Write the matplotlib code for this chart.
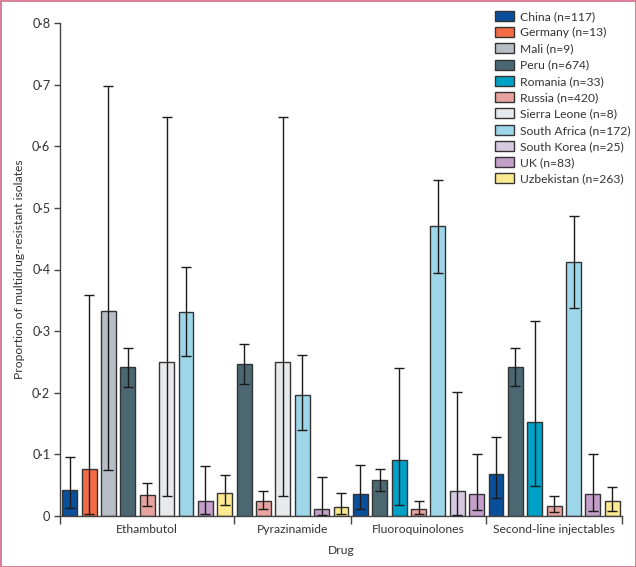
import matplotlib.pyplot as plt
import numpy as np
from matplotlib.patches import Patch
from matplotlib.ticker import FixedLocator, FuncFormatter

plt.rcParams['font.family'] = ['Lato', 'DejaVu Sans']

countries = ['China (n=117)', 'Germany (n=13)', 'Mali (n=9)', 'Peru (n=674)',
             'Romania (n=33)', 'Russia (n=420)', 'Sierra Leone (n=8)',
             'South Africa (n=172)', 'South Korea (n=25)', 'UK (n=83)',
             'Uzbekistan (n=263)']
colors = ['#0a4f9c', '#f36c45', '#b7bec6', '#4b6872', '#00a1c7', '#e8a39e',
          '#e7eaed', '#9dd6e8', '#d8c9e3', '#c49fc9', '#fcea8f']

drugs = ['Ethambutol', 'Pyrazinamide', 'Fluoroquinolones', 'Second-line injectables']

# country index for each bar, per drug
eth_idx = [0, 1, 2, 3, 5, 6, 7, 9, 10]
eth_val = [0.043, 0.076, 0.332, 0.241, 0.034, 0.250, 0.331, 0.025, 0.038]
eth_lo = [0.013, 0.003, 0.075, 0.209, 0.017, 0.032, 0.260, 0.004, 0.018]
eth_hi = [0.096, 0.358, 0.697, 0.273, 0.054, 0.647, 0.404, 0.081, 0.067]

pyr_idx = [3, 5, 6, 7, 9, 10]
pyr_val = [0.246, 0.024, 0.250, 0.197, 0.012, 0.015]
pyr_lo = [0.214, 0.011, 0.032, 0.140, 0.001, 0.004]
pyr_hi = [0.279, 0.041, 0.647, 0.261, 0.063, 0.038]

flq_idx = [0, 3, 4, 5, 7, 8, 9]
flq_val = [0.035, 0.058, 0.091, 0.012, 0.470, 0.040, 0.036]
flq_lo = [0.011, 0.041, 0.018, 0.004, 0.394, 0.002, 0.009]
flq_hi = [0.082, 0.076, 0.240, 0.025, 0.545, 0.201, 0.100]

sli_idx = [0, 3, 4, 5, 7, 9, 10]
sli_val = [0.068, 0.242, 0.152, 0.017, 0.412, 0.036, 0.024]
sli_lo = [0.029, 0.211, 0.049, 0.007, 0.338, 0.008, 0.008]
sli_hi = [0.129, 0.273, 0.317, 0.033, 0.487, 0.100, 0.047]

groups = [(eth_idx, eth_val, eth_lo, eth_hi),
          (pyr_idx, pyr_val, pyr_lo, pyr_hi),
          (flq_idx, flq_val, flq_lo, flq_hi),
          (sli_idx, sli_val, sli_lo, sli_hi)]

fig = plt.figure(figsize=(6.36, 5.67), dpi=100)
fig.patch.set_edgecolor('#d9809b')
fig.patch.set_linewidth(2)
ax = fig.add_axes([60 / 636, 1 - 516 / 567, 562 / 636, 493 / 567])

edge = '#333333'
pos = 0
bounds = [-0.5]
centers = []
for idx, val, lo, hi in groups:
    x = np.arange(pos, pos + len(idx))
    ax.bar(x, val, width=0.77, color=[colors[i] for i in idx],
           edgecolor=edge, linewidth=1, zorder=2)
    yerr = [np.array(val) - np.array(lo), np.array(hi) - np.array(val)]
    ax.errorbar(x, val, yerr=yerr, fmt='none', ecolor='#1a1a1a',
                elinewidth=1, capsize=3.5, capthick=1, zorder=3)
    centers.append(pos + (len(idx) - 1) / 2)
    pos += len(idx)
    bounds.append(pos - 0.5)

ax.set_xlim(bounds[0], bounds[-1])
ax.set_ylim(0, 0.8)

for s in ['top', 'right']:
    ax.spines[s].set_visible(False)
for s in ['left', 'bottom']:
    ax.spines[s].set_color('#444444')
    ax.spines[s].set_linewidth(1)

ax.xaxis.set_major_locator(FixedLocator(bounds))
ax.xaxis.set_major_formatter(FuncFormatter(lambda v, p: ''))
ax.xaxis.set_minor_locator(FixedLocator(centers))
ax.set_xticklabels(drugs, minor=True)
ax.tick_params(axis='x', which='major', length=6, width=1, color='#444444')
ax.tick_params(axis='x', which='minor', length=0, pad=6, labelsize=8.7,
               labelcolor='#333333')

ax.set_yticks(np.arange(0, 0.81, 0.1))
ax.yaxis.set_major_formatter(FuncFormatter(
    lambda v, p: '0' if abs(v) < 1e-9 else ('%.1f' % v).replace('.', '\u00b7')))
ax.tick_params(axis='y', length=4, width=1, color='#444444', labelsize=9.2,
               labelcolor='#333333', pad=3)

ax.set_xlabel('Drug', fontsize=8.7, color='#333333', labelpad=7)
ax.set_ylabel('Proportion of multidrug-resistant isolates', fontsize=8.7,
              color='#333333', labelpad=5)

handles = [Patch(facecolor=c, edgecolor=edge, linewidth=1) for c in colors]
fig.legend(handles, countries, loc='upper left', bbox_to_anchor=(490 / 636, 1 - 6 / 567),
           frameon=False, fontsize=8.7, handlelength=1.6, handleheight=0.9,
           handletextpad=0.45, labelspacing=0.42, labelcolor='#333333',
           borderaxespad=0)

fig.savefig('out.png', dpi=100)
